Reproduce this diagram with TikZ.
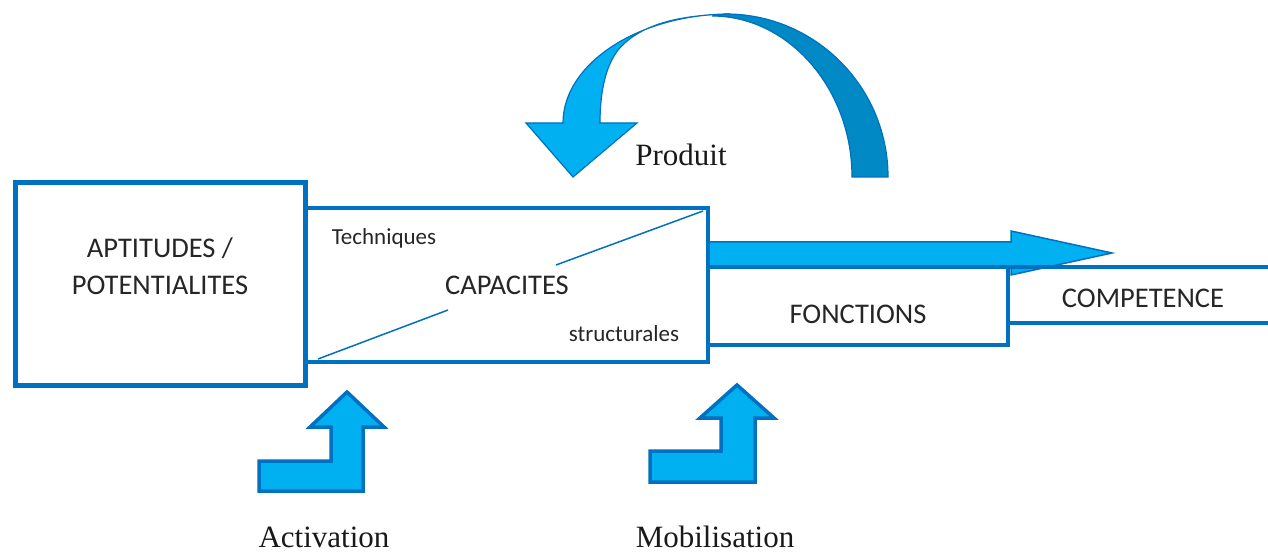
\documentclass[tikz,border=0pt]{standalone}
\usepackage{fontspec}
\setmainfont{Liberation Serif}
\newfontfamily\calibri{Carlito}
\definecolor{boxblue}{HTML}{0070C0}
\definecolor{lightblue}{HTML}{00B0F0}
\definecolor{darkblue}{HTML}{0089C4}
\begin{document}
\begin{tikzpicture}[x=1pt,y=-1pt,
  frame/.style={draw=boxblue,line width=4.5pt},
  bigtxt/.style={anchor=base,font=\calibri\fontsize{28.5}{34}\selectfont,text=black!85},
  smalltxt/.style={anchor=base,font=\calibri\fontsize{23}{28}\selectfont,text=black!85},
  serif/.style={anchor=base,font=\fontsize{31}{36}\selectfont,text=black!90},
  bent/.style={fill=lightblue,draw=boxblue,line width=3.5pt,line join=miter}]
\useasboundingbox (0,0) rectangle (1268,553);
\clip (0,0) rectangle (1268,553);
% loop arrow over the capacities
\draw[fill=darkblue,draw=boxblue,line width=1.2pt] (712,16) .. controls (788,16) and (852,88) .. (852,177)
  -- (888,177) .. controls (888,87) and (815,14) .. (726,14) -- cycle;
\draw[fill=lightblue,draw=boxblue,line width=1.2pt] (526,123) -- (563,123) .. controls (563,63) and (640,14) .. (730,14)
  .. controls (680,15) and (640,24) .. (618,50) .. controls (606,66) and (600,90) .. (600,123)
  -- (637,123) -- (573,177) -- cycle;
% long arrow towards competence
\draw[fill=lightblue,draw=boxblue,line width=1.5pt] (708,242) -- (1011,242) -- (1011,231) -- (1112,253)
  -- (1011,275) -- (1011,266) -- (708,266) -- cycle;
% boxes
\draw[frame,line width=5pt] (15,183) rectangle (305,385);
\draw[frame] (305,208) rectangle (708,362);
\draw[frame] (708,267) rectangle (1008,345);
\draw[frame] (1275,267) -- (1008,267) -- (1008,323) -- (1275,323);
\draw[boxblue,line width=1.5pt] (318,359) -- (448,310);
\draw[boxblue,line width=1.5pt] (556,265) -- (703,211);
% bent arrows below
\draw[bent] (347,392) -- (384,427) -- (363,427) -- (363,491) -- (259,491) -- (259,461) -- (331,461)
  -- (331,427) -- (310,427) -- cycle;
\draw[bent] (737,385) -- (774,418) -- (755,418) -- (755,482) -- (650,482) -- (650,451) -- (721,451)
  -- (721,418) -- (700,418) -- cycle;
% labels
\node[bigtxt] (apt) at (160,258) {APTITUDES /};
\node[bigtxt] (pot) at (160,294) {POTENTIALITES};
\node[bigtxt] (cap) at (507,294) {CAPACITES};
\node[smalltxt] (tech) at (384,244) {Techniques};
\node[smalltxt] (struct) at (624,341) {structurales};
\node[bigtxt] (fonc) at (858,323) {FONCTIONS};
\node[bigtxt] (comp) at (1143,307) {COMPETENCE};
\node[serif] (prod) at (681,166) {Produit};
\node[serif] (act) at (324,547) {Activation};
\node[serif] (mob) at (715,547) {Mobilisation};
\end{tikzpicture}
\end{document}
